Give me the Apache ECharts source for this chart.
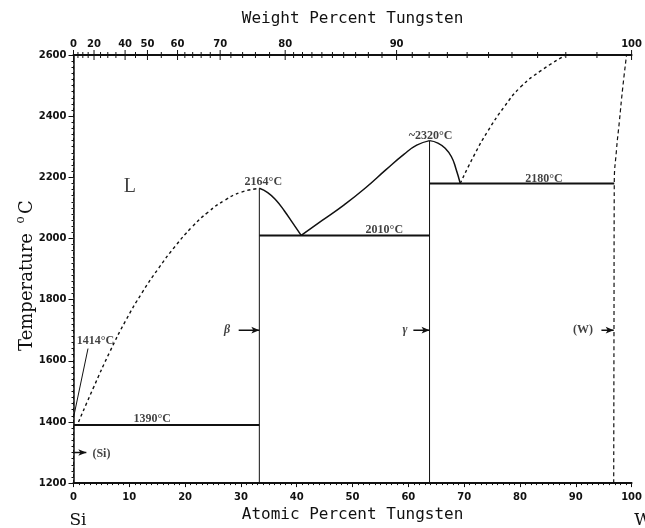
<!DOCTYPE html>
<html>
<head>
<meta charset="utf-8">
<script src="https://cdn.jsdelivr.net/npm/echarts@6/dist/echarts.min.js"></script>
<style>
  html, body { margin: 0; padding: 0; background: #fff; }
  #chart { width: 645px; height: 528px; }
</style>
</head>
<body>
<div id="chart"></div>
<script>
// ---- Si–W phase diagram data (x: atomic % W, y: temperature °C) ----
const siLiquidus = [[0.9,1400],[3.5,1509],[6.5,1629],[9.4,1733],[12.3,1823],[15.3,1904],
  [18.2,1974],[21.2,2037],[24.1,2086],[27.1,2125],[30.0,2151],[33.3,2164]];
const wsi2Liquidus = [[33.3,2164],[34.8,2150],[36.3,2125],[37.8,2090],[39.3,2050],[40.8,2010]];
const w5si3LiquidusLeft = [[40.8,2010],[44.5,2058],[48.5,2110],[52.3,2165],[56.0,2225],[59.2,2275],
  [61.5,2305],[63.8,2320]];
const w5si3LiquidusRight = [[63.8,2320],[65.3,2312],[66.6,2295],[67.7,2268],[68.5,2230],[69.3,2180]];
const wLiquidus = [[69.3,2180],[71.9,2276],[74.2,2350],[77.2,2431],[80.1,2495],[83.7,2548],[88.2,2600]];
const wSolvus = [[96.8,1200],[96.85,1700],[96.9,2180],[97.3,2290],[97.8,2380],[98.4,2490],[99.1,2600]];

const siMelt = 1414;
const eutecticSi = 1390, eutecticMid = 2010, eutecticW = 2180;
const wsi2 = { x: 33.3, melt: 2164 };
const w5si3 = { x: 63.8, melt: 2320 };
const wSolvusAtEutectic = 96.9;

// phase field labels: [at% W, °C, text]
const phaseLabels = [[10.1, 2170, 'L'], [27.5, 1700, 'β'], [59.4, 1700, 'γ'], [91.3, 1700, '(W)'], [5.0, 1295, '(Si)']];
// short phase markers: [x from, x to, °C]
const phaseArrows = [[29.6, wsi2.x, 1700], [60.9, w5si3.x, 1700], [94.6, 96.8, 1700], [0, 2.3, 1300]];

// top axis: weight percent tungsten
const wtLabels = [0, 20, 40, 50, 60, 70, 80, 90, 100];
const wtTicks = [0,5,10,15,20,25,30,35,40,45,50,55,60,62,64,66,68,70,72,74,76,78,80,81,82,83,84,85,
  86,87,88,89,90,91,92,93,94,95,96,97,98,99,100];

const M_W = 183.84, M_SI = 28.0855;
function wtToAt(w) {
  const nW = w / M_W, nSi = (100 - w) / M_SI;
  return 100 * nW / (nW + nSi);
}

const chart = echarts.init(document.getElementById('chart'));
const black = '#111';
const labelFont = { fontFamily: 'DejaVu Sans', fontSize: 10, fontWeight: 'bold', color: black };

function lineSeries(data, opts = {}) {
  return Object.assign({
    type: 'line', data, symbol: 'none', smooth: false, silent: true,
    lineStyle: { color: black, width: 1.5 }, z: 3
  }, opts);
}
const curve = { smooth: 0.5 };
const dashed = w => ({ lineStyle: { color: black, width: w, type: [3, 3] } });

const series = [
  lineSeries(siLiquidus, Object.assign({}, curve, dashed(1.4))),
  lineSeries(wsi2Liquidus, curve),
  lineSeries(w5si3LiquidusLeft, curve),
  lineSeries(w5si3LiquidusRight, curve),
  lineSeries(wLiquidus, Object.assign({}, curve, dashed(1.4))),
  lineSeries(wSolvus, Object.assign({}, curve, { lineStyle: { color: black, width: 1.2, type: [4, 3] } })),
  // invariant horizontals
  lineSeries([[0, eutecticSi], [wsi2.x, eutecticSi]], { lineStyle: { color: black, width: 2 } }),
  lineSeries([[wsi2.x, eutecticMid], [w5si3.x, eutecticMid]], { lineStyle: { color: black, width: 2 } }),
  lineSeries([[w5si3.x, eutecticW], [wSolvusAtEutectic, eutecticW]], { lineStyle: { color: black, width: 2 } }),
  // line compounds
  lineSeries([[wsi2.x, 1200], [wsi2.x, wsi2.melt]], { lineStyle: { color: black, width: 1 } }),
  lineSeries([[w5si3.x, 1200], [w5si3.x, w5si3.melt]], { lineStyle: { color: black, width: 1 } }),
  // leader to Si melting point
  lineSeries([[0, siMelt], [2.6, 1640]], { lineStyle: { color: black, width: 1 } })
];

phaseArrows.forEach(a => {
  series.push(lineSeries([[a[0], a[2]], { value: [a[1], a[2]], symbol: 'arrow', symbolSize: [5, 8], symbolRotate: -90 }],
    { symbol: 'none', showSymbol: true, itemStyle: { color: black }, lineStyle: { color: black, width: 1.5 } }));
});

// temperature labels on the invariant points/lines
const valueLabels = [
  { value: [0, siMelt], text: v => v + '°C', offset: [22, -77] },
  { value: [wsi2.x, wsi2.melt], text: v => v + '°C', offset: [4, -6] },
  { value: [55.7, eutecticMid], text: v => v + '°C', offset: [0, -6] },
  { value: [w5si3.x, w5si3.melt], text: v => '~' + v + '°C', offset: [1, -5] },
  { value: [84.3, eutecticW], text: v => v + '°C', offset: [0, -5] },
  { value: [14.1, eutecticSi], text: v => v + '°C', offset: [0, -6] }
];
series.push({
  type: 'scatter', silent: true, symbolSize: 0, z: 5,
  data: valueLabels.map(d => ({
    value: d.value,
    label: {
      show: true, position: 'inside', offset: d.offset, formatter: d.text(d.value[1]),
      fontFamily: 'Liberation Serif', fontSize: 12, fontWeight: 'bold', color: black
    }
  }))
});

// phase field labels
series.push({
  type: 'scatter', silent: true, symbolSize: 0, z: 5,
  data: phaseLabels.map(p => ({
    value: [p[0], p[1]],
    label: {
      show: true, position: 'inside', formatter: p[2], color: black,
      fontFamily: 'Liberation Serif',
      fontSize: p[2] === 'L' ? 20 : 12,
      fontStyle: p[2].length === 1 && p[2] !== 'L' ? 'italic' : 'normal',
      fontWeight: p[2] === 'L' ? 'normal' : 'bold'
    }
  }))
});

// weight-percent scale along the top edge
series.push({
  type: 'custom', silent: true, clip: false, z: 6,
  data: wtTicks.map(w => [wtToAt(w), 2600, wtLabels.indexOf(w) >= 0 ? 1 : 0]),
  renderItem(params, api) {
    const p = api.coord([api.value(0), api.value(1)]);
    const len = api.value(2) ? 5 : 3;
    return { type: 'line', shape: { x1: p[0], y1: p[1] - len, x2: p[0], y2: p[1] + len },
      style: { stroke: black, lineWidth: 1 } };
  }
});
series.push({
  type: 'custom', silent: true, clip: false, z: 6,
  data: wtLabels.map(w => [wtToAt(w), 2600, w]),
  renderItem(params, api) {
    const p = api.coord([api.value(0), api.value(1)]);
    return { type: 'text', x: p[0], y: p[1] - 11,
      style: { text: String(api.value(2)), fill: black, align: 'center', verticalAlign: 'middle',
        font: 'bold 10px "DejaVu Sans"' } };
  }
});

chart.setOption({
  animation: false,
  backgroundColor: '#fff',
  grid: { left: 73.5, right: 6, top: 55, bottom: 37 },
  xAxis: [
    {
      type: 'value', position: 'bottom', min: 0, max: 100, interval: 10,
      name: 'Atomic Percent Tungsten', nameLocation: 'middle', nameGap: 22,
      nameTextStyle: { fontFamily: 'DejaVu Sans Mono', fontSize: 16, color: black },
      axisLine: { show: true, lineStyle: { color: black, width: 2 } },
      axisTick: { show: true, length: 4, lineStyle: { color: black } },
      minorTick: { show: true, splitNumber: 10, length: 2, lineStyle: { color: black } },
      axisLabel: Object.assign({ margin: 9, formatter: v => String(v) }, labelFont),
      splitLine: { show: false }
    },
    {
      type: 'value', position: 'top', min: 0, max: 100,
      name: 'Weight Percent Tungsten', nameLocation: 'middle', nameGap: 28,
      nameTextStyle: { fontFamily: 'DejaVu Sans Mono', fontSize: 16, color: black },
      axisLine: { show: true, lineStyle: { color: black, width: 2 } },
      axisTick: { show: false }, axisLabel: { show: false }, splitLine: { show: false }
    }
  ],
  yAxis: [
    {
      type: 'value', position: 'left', min: 1200, max: 2600, interval: 200,
      axisLine: { show: true, lineStyle: { color: black, width: 1.5 } },
      axisTick: { show: true, length: 5, lineStyle: { color: black } },
      minorTick: { show: true, splitNumber: 10, length: 2, lineStyle: { color: black } },
      axisLabel: Object.assign({ margin: 7, formatter: v => String(v) }, labelFont),
      splitLine: { show: false }
    },
    {
      type: 'value', position: 'right', min: 1200, max: 2600, interval: 200,
      axisLine: { show: true, lineStyle: { color: black, width: 1, type: [3, 3] } },
      axisTick: { show: true, inside: true, length: 3, lineStyle: { color: black } },
      minorTick: { show: false },
      axisLabel: { show: false }, splitLine: { show: false }
    }
  ],
  graphic: [
    { type: 'text', x: 27, y: 292, rotation: Math.PI / 2, style: { text: 'Temperature', fill: black,
        font: '18px "DejaVu Serif"', align: 'center', verticalAlign: 'middle' } },
    { type: 'text', x: 21, y: 220, rotation: Math.PI / 2, style: { text: 'o', fill: black,
        font: '12px "DejaVu Serif"', align: 'center', verticalAlign: 'middle' } },
    { type: 'text', x: 27, y: 207, rotation: Math.PI / 2, style: { text: 'C', fill: black,
        font: '18px "DejaVu Serif"', align: 'center', verticalAlign: 'middle' } },
    { type: 'text', x: 78, y: 521, style: { text: 'Si', fill: black,
        font: '17px "DejaVu Serif"', align: 'center', verticalAlign: 'middle' } },
    { type: 'text', x: 643, y: 521, style: { text: 'W', fill: black,
        font: '17px "DejaVu Serif"', align: 'center', verticalAlign: 'middle' } }
  ],
  series
});
</script>
</body>
</html>
